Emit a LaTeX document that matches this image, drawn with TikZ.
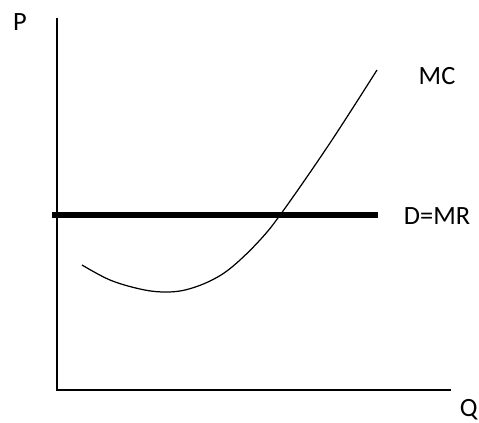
\documentclass[tikz,border=0pt]{standalone}
\usepackage{fontspec}
\setmainfont{Carlito}
\usepackage{tikz}
\usetikzlibrary{positioning}

\begin{document}
\begin{tikzpicture}[
  x=0.02cm, y=-0.02cm,
  axislabel/.style={font=\fontsize{15}{17}\selectfont, inner sep=0pt},
  axisline/.style={line width=1.1pt},
  demandline/.style={line width=3.4pt},
  mccurve/.style={line width=0.7pt}
]
\clip (0,0) rectangle (479,422);
\useasboundingbox (0,0) rectangle (479,422);

% axes
\coordinate (ytop) at (57,18);
\coordinate (origin) at (57,390);
\coordinate (xend) at (451,390);
\draw[axisline] (ytop) -- (origin) -- (xend);

\node[axislabel] (plabel) at (20,22) {P};
\node[axislabel, anchor=east] (qlabel) at (478,410) {Q};

% demand = marginal revenue
\coordinate (dleft) at (52,215);
\coordinate (dright) at (378,215);
\draw[demandline] (dleft) -- (dright);
\node[axislabel] (dmr) at (437,216) {D=MR};

% marginal cost
\draw[mccurve] plot[smooth, tension=0.6] coordinates {
  (82,265) (110,280) (140,289) (163,292) (185,290) (210,281)
  (232,267) (260,240) (283,211) (330,143) (377,70)};
\node[axislabel] (mc) at (437,76) {MC};
\end{tikzpicture}
\end{document}
